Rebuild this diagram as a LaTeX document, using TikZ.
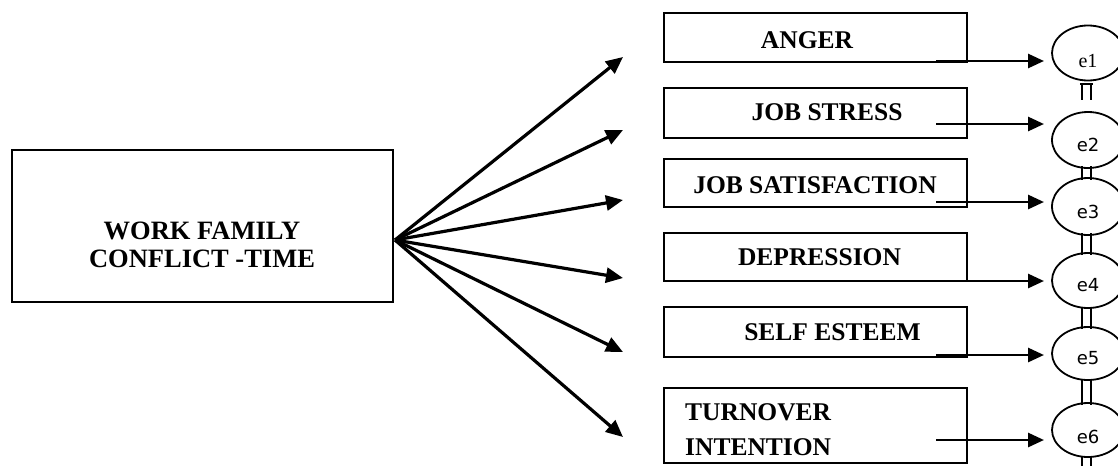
\documentclass[tikz,border=0pt]{standalone}
\usepackage{fontspec}
\setmainfont{Liberation Serif}
\newfontfamily\sansf{DejaVu Sans}
\usetikzlibrary{arrows.meta,shapes.geometric}
\tikzset{
  box/.style={draw=black,line width=2pt,rectangle,minimum width=303pt,inner sep=0pt},
  lbl/.style={font=\bfseries\fontsize{25.5}{28}\selectfont,inner sep=0pt},
  arr/.style={line width=3.2pt,-{Triangle[length=17pt,width=15pt]}},
  sarr/.style={line width=2.8pt,-{Triangle[length=16pt,width=14pt]}},
  err/.style={draw=black,line width=1.8pt,ellipse,minimum width=72pt,inner sep=0pt},
  elbl/.style={font=\sansf\fontsize{18}{20}\selectfont,inner sep=0pt},
  tick/.style={line width=2pt}
}
\begin{document}
\begin{tikzpicture}[x=1pt,y=-1pt]
\useasboundingbox (0,0) rectangle (1118,466);
% main box
\node[draw=black,line width=2pt,minimum width=381pt,minimum height=152pt,inner sep=0pt] (wfc) at (202.5,226) {};
\node[lbl,align=center,font=\bfseries\fontsize{26.5}{28}\selectfont] (wfct) at (202,245) {WORK FAMILY\\CONFLICT -TIME};
\coordinate (hub) at (395,240);
% outcome boxes
\node[box,minimum height=49pt] (anger) at (815.5,37.5) {};
\node[lbl] (angert) at (807,40) {ANGER};
\node[box,minimum height=50pt] (stress) at (815.5,113) {};
\node[lbl] (stresst) at (827,112) {JOB STRESS};
\node[box,minimum height=48pt] (sat) at (815.5,183) {};
\node[lbl] (satt) at (815,185) {JOB SATISFACTION};
\node[box,minimum height=48pt] (dep) at (815.5,257) {};
\node[lbl] (dept) at (819.5,257) {DEPRESSION};
\node[box,minimum height=50pt] (self) at (815.5,332) {};
\node[lbl] (selft) at (832.5,332) {SELF ESTEEM};
\node[box,minimum height=75pt] (turn) at (815.5,425.5) {};
\node[lbl,align=left,anchor=west,font=\bfseries\fontsize{25.5}{35}\selectfont] (turnt) at (685,430) {TURNOVER\\INTENTION};
% fan arrow tips
\coordinate (t1) at (623,57);
\coordinate (t2) at (623,130);
\coordinate (t3) at (623,200);
\coordinate (t4) at (623,278);
\coordinate (t5) at (623,352);
\coordinate (t6) at (623,437);
\foreach \i in {1,...,6} { \draw[arr] (hub) -- (t\i); }
% error terms
\node[err,minimum height=55pt] (e1) at (1088,53) {};
\node[err,minimum height=56pt] (e2) at (1088,140) {};
\node[err,minimum height=57pt] (e3) at (1088,206.5) {};
\node[err,minimum height=55pt] (e4) at (1088,280.5) {};
\node[err,minimum height=53pt] (e5) at (1088,353.5) {};
\node[err,minimum height=54pt] (e6) at (1088,430) {};
\node[inner sep=0pt,font=\fontsize{20}{22}\selectfont] (e1t) at (1088,61) {e1};
\node[elbl] (e2t) at (1088,145) {e2};
\node[elbl] (e3t) at (1088,212) {e3};
\node[elbl] (e4t) at (1088,285) {e4};
\node[elbl] (e5t) at (1088,358) {e5};
\node[elbl] (e6t) at (1088,437) {e6};
% arrows to error terms
\coordinate (s1) at (936,61);   \coordinate (r1) at (1044,61);
\coordinate (s2) at (936,124);  \coordinate (r2) at (1044,124);
\coordinate (s3) at (936,202);  \coordinate (r3) at (1044,202);
\coordinate (s4) at (936,281);  \coordinate (r4) at (1044,281);
\coordinate (s5) at (936,355);  \coordinate (r5) at (1044,355);
\coordinate (s6) at (936,440);  \coordinate (r6) at (1044,440);
\foreach \i in {1,...,6} { \draw[sarr] (s\i) -- (r\i); }
% small marks between error terms
\draw[tick] (1080,84) -- (1093,84);
\draw[tick] (1082,84) -- (1082,100) (1091,84) -- (1091,100);
\draw[tick] (1082,166) -- (1082,180) (1091,166) -- (1091,180);
\draw[tick] (1082,233) -- (1082,255) (1091,233) -- (1091,255);
\draw[tick] (1082,307) -- (1082,329) (1091,307) -- (1091,329);
\draw[tick] (1082,379) -- (1082,405) (1091,379) -- (1091,405);
\draw[tick] (1082,456) -- (1082,466) (1091,456) -- (1091,466);
\end{tikzpicture}
\end{document}
